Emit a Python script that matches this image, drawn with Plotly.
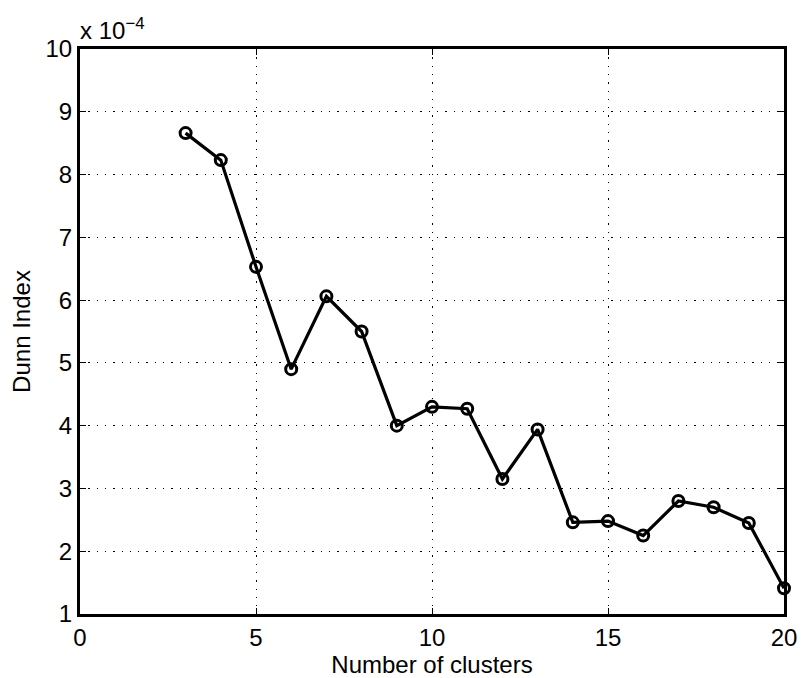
import plotly.graph_objects as go

# Number of clusters
clusters = [3, 4, 5, 6, 7, 8, 9, 10, 11, 12, 13, 14, 15, 16, 17, 18, 19, 20]
# Dunn index (in units of 1e-4)
dunn = [8.66, 8.23, 6.53, 4.90, 6.06, 5.50, 4.00, 4.30, 4.27, 3.15, 3.94,
        2.46, 2.48, 2.25, 2.80, 2.70, 2.45, 1.41]
x_ticks = [0, 5, 10, 15, 20]
y_ticks = [1, 2, 3, 4, 5, 6, 7, 8, 9, 10]

font = "Liberation Sans, Arial, Helvetica, sans-serif"

fig = go.Figure()
fig.add_trace(go.Scatter(
    x=clusters, y=dunn, mode="lines+markers",
    line=dict(color="black", width=3.2),
    marker=dict(symbol="circle-open", size=11, color="black", line=dict(width=3)),
    showlegend=False, cliponaxis=False,
))

axis_common = dict(
    showline=True, linecolor="black", linewidth=3, mirror="ticks",
    ticks="inside", ticklen=6, tickwidth=1, tickcolor="black",
    showgrid=True, gridcolor="black", gridwidth=1.3, griddash="1.3px,7px",
    zeroline=False, tickfont=dict(family=font, size=24, color="black"),
    automargin=False,
)

fig.update_xaxes(range=[0, 20], tickvals=x_ticks, **axis_common,
                 title=dict(text="Number of clusters", font=dict(family=font, size=24, color="black"), standoff=4))
fig.update_yaxes(range=[1, 10], tickvals=y_ticks, **axis_common,
                 title=dict(text="Dunn Index", font=dict(family=font, size=24, color="black"), standoff=9))

fig.add_annotation(x=0, y=1, xref="paper", yref="paper", xanchor="left", yanchor="bottom",
                   text="x 10<sup>−4</sup>", showarrow=False, yshift=3, xshift=-2,
                   font=dict(family=font, size=24, color="black"))

fig.update_layout(
    width=803, height=678,
    margin=dict(l=80, r=19, t=49, b=64),
    plot_bgcolor="white", paper_bgcolor="white",
)

fig.write_html("out.html", config={"displayModeBar": False},
               post_script="document.body.style.margin='0';")
